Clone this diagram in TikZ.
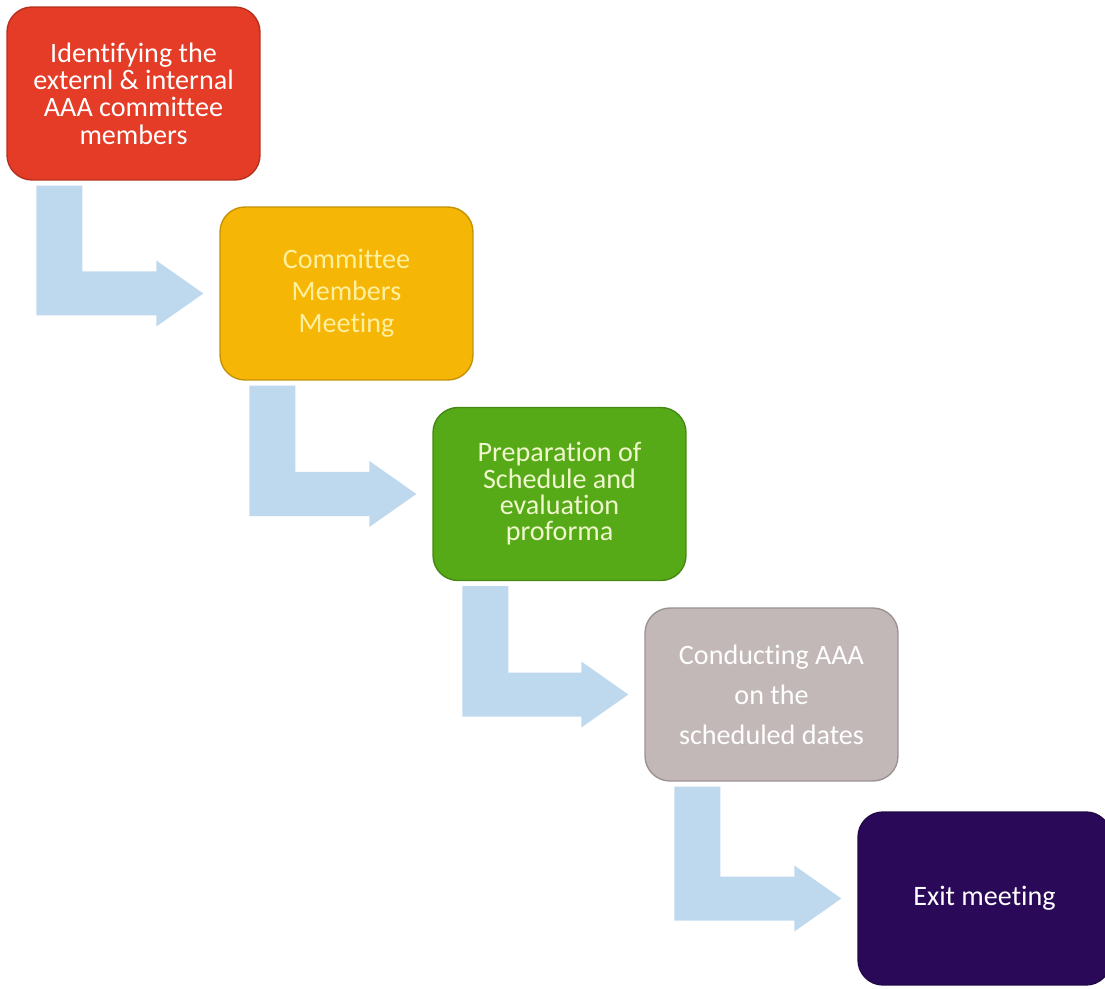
\documentclass[tikz,border=0pt]{standalone}
\usepackage{fontspec}
\setmainfont{Carlito}[Ligatures=NoCommon]
\usetikzlibrary{calc}

\definecolor{stepred}{RGB}{228,60,38}
\definecolor{stepyellow}{RGB}{246,182,6}
\definecolor{stepgreen}{RGB}{86,170,24}
\definecolor{stepgray}{RGB}{194,184,183}
\definecolor{steppurple}{RGB}{42,10,88}
\definecolor{textyellow}{RGB}{255,240,160}
\definecolor{textgreen}{RGB}{240,246,205}
\definecolor{arrowblue}{RGB}{190,216,238}

\begin{document}
\begin{tikzpicture}[x=0.02cm,y=-0.02cm,
    stepbox/.style={rounded corners=0.5cm, minimum width=5.06cm, minimum height=3.46cm,
        align=center, inner sep=0pt, line width=0.8pt}]

    \useasboundingbox (0,0) rectangle (1105,989);

    % the five steps
    \foreach \i/\x/\y/\fc/\tc/\ls/\txt in {
        0/133.5/93.5/stepred/white/15.6/{Identifying the\\externl \& internal\\AAA committee\\members},
        1/346.5/293.5/stepyellow/textyellow/18.2/{Committee\\Members\\Meeting},
        2/559.5/494/stepgreen/textgreen/15/{Preparation of\\Schedule and\\evaluation\\proforma},
        3/771.5/694.5/stepgray/white/22.8/{Conducting AAA\\on the\\scheduled dates},
        4/984.5/898.5/steppurple/white/15.6/{Exit meeting}} {
        \node[stepbox, fill=\fc, draw=\fc!80!black, text=\tc,
            font={\fontsize{16}{\ls}\selectfont}] (box\i) at (\x,\y) {\txt};
    }

    % bent arrows between the steps
    \foreach \i [evaluate=\i as \j using int(\i+1)] in {0,...,3} {
        \fill[arrowblue]
            ($(box\i.south west)+(30,5)$) -- ($(box\i.south west)+(76,5)$)
            -- ($(box\i.south west |- box\j.west)+(76,-22)$)
            -- ($(box\j.west)+(-63,-22)$) -- ($(box\j.west)+(-63,-33)$)
            -- ($(box\j.west)+(-16,0)$)
            -- ($(box\j.west)+(-63,33)$) -- ($(box\j.west)+(-63,22)$)
            -- ($(box\i.south west |- box\j.west)+(30,22)$) -- cycle;
    }

\end{tikzpicture}
\end{document}
